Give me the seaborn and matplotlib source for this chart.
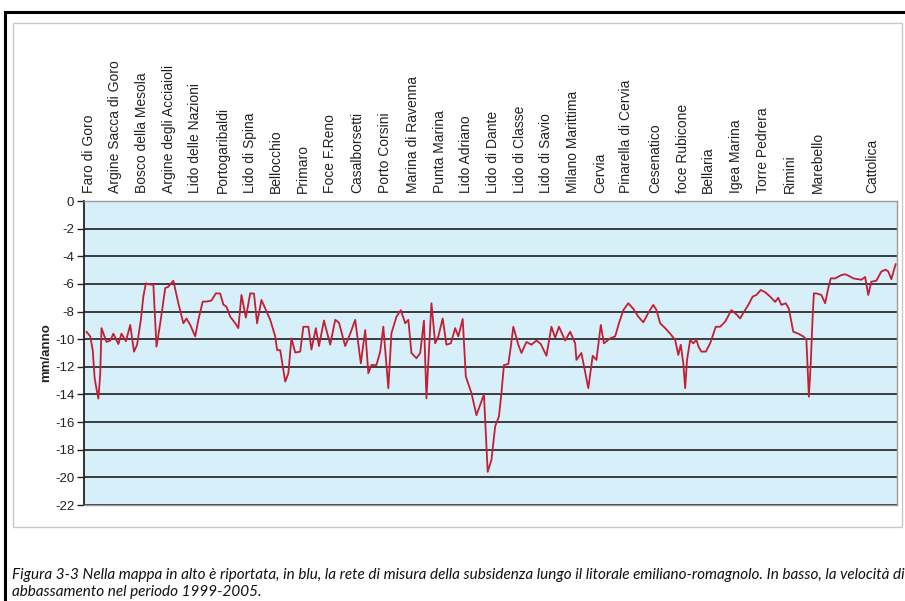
import matplotlib
matplotlib.use("Agg")
import matplotlib.pyplot as plt
from matplotlib.patches import Rectangle
import seaborn as sns
import pandas as pd

# ---- data: progressive distance along the coast (km) and subsidence rate (mm/anno)
dist_km = [0.4, 1.0, 1.4, 1.7, 2.0, 2.3, 2.6, 2.8, 3.6, 4.2, 4.7, 5.5, 6.0, 6.7, 7.4, 8.0, 8.5, 9.1,
           9.5, 9.9, 10.6, 11.1, 11.6, 12.2, 13.0, 13.5, 14.3, 15.1, 15.9, 16.4, 17.0, 17.8, 18.3, 19.0,
           19.6, 20.4, 21.1, 21.8, 22.3, 22.8, 23.4, 24.2, 24.7, 25.2, 25.9, 26.6, 27.2, 27.7, 28.4, 29.1,
           29.8, 30.6, 30.9, 31.4, 32.2, 32.7, 33.2, 33.8, 34.6, 35.1, 35.9, 36.4, 37.1, 37.6, 38.4, 39.4,
           40.2, 40.8, 41.8, 42.6, 43.4, 44.3, 45.0, 45.5, 46.0, 46.8, 47.4, 47.9, 48.7, 49.2, 50.0, 50.7,
           51.4, 51.9, 52.4, 53.2, 53.8, 54.4, 54.8, 55.6, 56.2, 56.7, 57.4, 58.0, 58.7, 59.4, 59.9, 60.6,
           61.1, 62.0, 62.8, 63.6, 64.0, 64.6, 65.2, 65.8, 66.4, 66.8, 67.2, 67.9, 68.3, 68.7, 69.5, 70.0,
           70.8, 71.6, 72.4, 73.1, 74.0, 74.8, 75.4, 76.0, 77.0, 77.8, 78.6, 78.8, 79.6, 80.7, 81.4, 82.0,
           82.7, 83.2, 84.2, 85.0, 85.6, 86.3, 87.1, 87.9, 88.7, 89.5, 90.3, 91.1, 91.6, 92.2, 93.0, 93.8,
           94.6, 95.1, 95.5, 95.9, 96.2, 96.5, 97.0, 97.5, 98.0, 98.4, 98.8, 99.5, 100.2, 101.1, 101.8,
           102.6, 103.6, 104.4, 105.0, 105.5, 106.3, 107.0, 107.6, 108.3, 109.0, 109.8, 110.6, 111.1,
           111.6, 112.3, 112.8, 113.5, 114.3, 115.1, 115.6, 116.0, 116.3, 116.6, 116.8, 117.3, 118.0,
           118.6, 119.1, 119.5, 120.2, 120.7, 121.2, 121.8, 122.4, 123.1, 123.9, 124.4, 125.0, 125.5,
           126.0, 126.8, 127.6, 128.3, 128.7, 129.2, 129.6, 129.9]

velocity = [-9.46, -9.8, -10.8, -12.8, -13.6, -14.3, -12.5, -9.2, -10.2, -10.1, -9.6, -10.35, -9.6,
            -10.15, -8.97, -10.9, -10.4, -8.6, -6.9, -5.96, -6.05, -6.05, -10.54, -8.85, -6.3, -6.2,
            -5.77, -7.4, -8.85, -8.5, -8.97, -9.8, -8.6, -7.28, -7.28, -7.2, -6.68, -6.7, -7.5, -7.65,
            -8.37, -8.85, -9.2, -6.8, -8.44, -6.68, -6.7, -8.85, -7.16, -7.88, -8.6, -9.8, -10.78,
            -10.8, -13.07, -12.47, -9.94, -10.97, -10.9, -9.1, -9.1, -10.75, -9.2, -10.5, -8.65, -10.4,
            -8.6, -8.8, -10.5, -9.6, -8.6, -11.75, -9.34, -12.47, -11.87, -11.87, -10.9, -9.1, -13.55,
            -9.57, -8.37, -7.9, -8.85, -8.6, -11.0, -11.38, -11.0, -8.66, -14.28, -7.4, -10.3, -9.8,
            -8.5, -10.4, -10.3, -9.2, -9.8, -8.54, -12.7, -13.9, -15.5, -14.5, -14.0, -19.6, -18.74,
            -16.3, -15.6, -13.9, -11.87, -11.8, -10.54, -9.1, -10.4, -11.0, -10.2, -10.4, -10.1,
            -10.35, -11.2, -9.1, -9.9, -9.1, -10.1, -9.46, -10.3, -11.5, -11.0, -13.55, -11.2, -11.5,
            -8.97, -10.3, -9.94, -9.8, -8.85, -7.9, -7.4, -7.8, -8.37, -8.78, -8.1, -7.52, -7.88, -8.85,
            -9.2, -9.6, -10.05, -11.14, -10.4, -11.75, -13.55, -11.5, -10.05, -10.3, -10.05, -10.6,
            -10.9, -10.9, -10.3, -9.1, -9.1, -8.73, -7.9, -8.2, -8.5, -8.1, -7.52, -6.92, -6.8, -6.44,
            -6.6, -6.92, -7.3, -7.0, -7.52, -7.4, -7.8, -9.46, -9.6, -9.8, -10.05, -14.16, -11.7, -8.37,
            -6.68, -6.7, -6.8, -7.4, -6.3, -5.6, -5.6, -5.48, -5.36, -5.3, -5.42, -5.6, -5.66, -5.7,
            -5.5, -6.8, -5.84, -5.77, -5.1, -4.97, -5.1, -5.66, -5.0, -4.56]

stations = ["Faro di Goro", "Argine Sacca di Goro", "Bosco della Mesola", "Argine degli Acciaioli",
            "Lido delle Nazioni", "Portogaribaldi", "Lido di Spina", "Bellocchio", "Primaro",
            "Foce F.Reno", "Casalborsetti", "Porto Corsini", "Marina di Ravenna", "Punta Marina",
            "Lido Adriano", "Lido di Dante", "Lido di Classe", "Lido di Savio", "Milano Marittima",
            "Cervia", "Pinarella di Cervia", "Cesenatico", "foce Rubicone", "Bellaria", "Igea Marina",
            "Torre Pedrera", "Rimini", "Marebello", "Cattolica"]
station_km = [0.8, 5.0, 9.3, 13.6, 17.8, 22.2, 26.5, 30.7, 35.0, 39.4, 43.7, 48.2, 52.6, 56.9,
              61.1, 65.4, 69.8, 74.0, 78.2, 82.6, 86.8, 91.4, 95.8, 99.8, 104.4, 108.6, 113.0,
              117.4, 126.2]

y_ticks = [0, -2, -4, -6, -8, -10, -12, -14, -16, -18, -20, -22]

caption_1 = ("Figura 3-3 Nella mappa in alto è riportata, in blu, la rete di misura della subsidenza "
             "lungo il litorale emiliano-romagnolo. In basso, la velocità di")
caption_2 = "abbassamento nel periodo 1999-2005."

df = pd.DataFrame({"km": dist_km, "mm/anno": velocity})

sns.set_style("white")
plt.rcParams["font.family"] = ["Liberation Sans", "DejaVu Sans"]
plt.rcParams["axes.unicode_minus"] = False

W, H = 905, 601
fig = plt.figure(figsize=(W / 100, H / 100), dpi=100)
fig.patch.set_facecolor("white")

# outer black frame and inner light chart frame
fig.add_artist(Rectangle((5 / W, -0.05), 1.1, 1 - 12 / H + 0.05, transform=fig.transFigure,
                         fill=False, edgecolor="black", lw=2.2))
fig.add_artist(Rectangle((13 / W, 1 - 527 / H), (902 - 13) / W, (527 - 23) / H,
                         transform=fig.transFigure, fill=False, edgecolor="#c8c8c8", lw=1.0))

ax = fig.add_axes([84 / W, 1 - 505 / H, (897 - 84) / W, 304 / H])
ax.set_facecolor("#d6eff9")

sns.lineplot(data=df, x="km", y="mm/anno", ax=ax, color="#c41e34", lw=1.3,
             estimator=None, sort=False, zorder=3)

ax.set_xlim(0, 130.1)
ax.set_ylim(-22, 0)
ax.set_yticks(y_ticks)
ax.set_yticklabels([str(v) for v in y_ticks], fontsize=9.5, color="#222222")
ax.yaxis.grid(True, color="#2e2e2e", lw=1.3, zorder=1)
ax.xaxis.grid(False)
ax.set_axisbelow(True)

ax.set_xticks(station_km)
ax.set_xticklabels(stations, rotation=90, fontsize=10, color="#222222", va="bottom")
ax.xaxis.tick_top()
ax.tick_params(axis="x", length=0, pad=6)
ax.tick_params(axis="y", direction="out", length=5, width=1.0, color="#222222", pad=2, left=True)
ax.set_xlabel("")
ax.set_ylabel("mm/anno", fontsize=9.5, fontweight="bold", color="#222222", labelpad=2)

for side in ("top", "bottom", "right"):
    ax.spines[side].set_color("#9a9a9a")
    ax.spines[side].set_linewidth(1.0)
ax.spines["left"].set_color("#222222")
ax.spines["left"].set_linewidth(1.3)

fig.text(12 / W, 1 - 575 / H, caption_1, fontsize=11, style="italic", family=["Lato", "DejaVu Sans"],
         va="center", ha="left", color="#111111")
fig.text(12 / W, 1 - 592 / H, caption_2, fontsize=11, style="italic", family=["Lato", "DejaVu Sans"],
         va="center", ha="left", color="#111111")

fig.savefig("out.png", dpi=100)
